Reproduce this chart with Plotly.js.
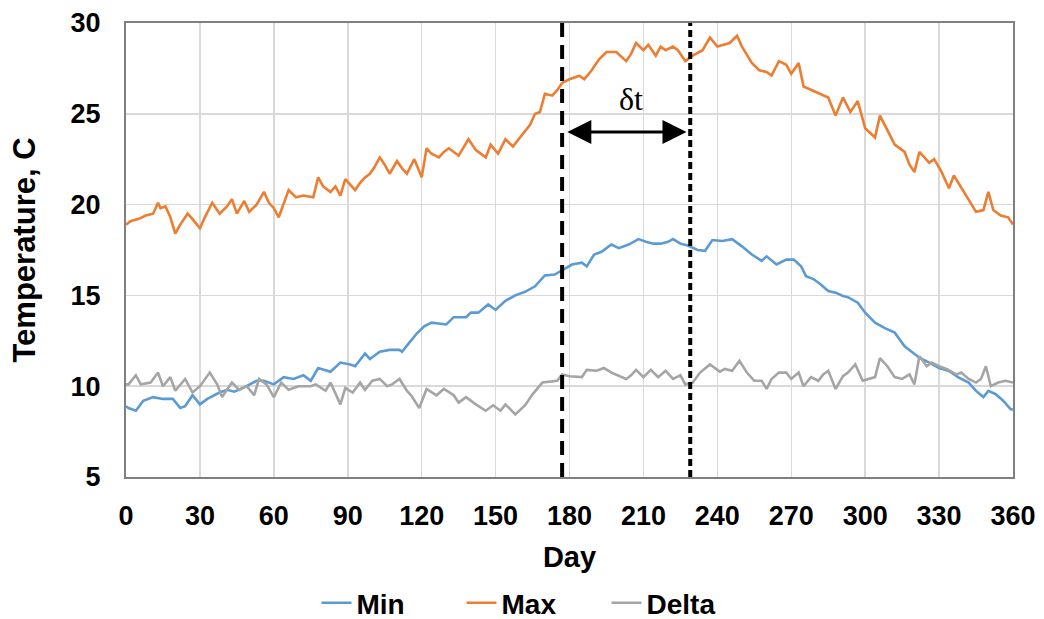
<!DOCTYPE html>
<html>
<head>
<meta charset="utf-8">
<script src="https://cdn.plot.ly/plotly-3.0.1.min.js"></script>
<style>html,body{margin:0;padding:0;background:#fff;}#chart{width:1044px;height:619px;}</style>
</head>
<body>
<div id="chart"></div>
<script>
// ---- data ----
const maxDays = [0,2,5,8,11,13,14,16,18,20,22,25,27,30,32,35,38,41,43,45,48,50,53,56,58,60,62,64,66,69,72,76,78,80,83,85,87,89,93,95,97,99,101,103,105,107,110,112,114,117,120,122,124,127,129,131,135,139,142,146,148,151,154,157,161,164,166,168,170,173,175,177,180,184,186,189,192,195,199,203,205,207,210,212,215,217,219,222,224,227,230,234,237,240,245,248,250,254,257,260,262,265,268,270,273,275,280,283,285,288,291,294,297,300,304,306,309,312,316,318,320,322,326,328,331,334,336,341,345,348,350,352,355,358,360];
const maxVals = [18.9,19.1,19.2,19.4,19.5,20.1,19.8,19.9,19.3,18.4,18.9,19.5,19.2,18.7,19.3,20.1,19.5,19.9,20.3,19.5,20.2,19.6,20.0,20.7,20.1,19.8,19.3,20.0,20.8,20.4,20.5,20.4,21.5,21.0,20.7,21.0,20.5,21.4,20.8,21.2,21.5,21.7,22.1,22.6,22.2,21.7,22.4,22.0,21.7,22.5,21.5,23.1,22.8,22.6,22.9,23.1,22.7,23.6,23.0,22.6,23.3,22.8,23.6,23.2,23.9,24.4,25.0,25.1,26.1,26.0,26.3,26.7,26.9,27.1,26.9,27.4,28.0,28.4,28.4,27.9,28.3,28.9,28.5,28.8,28.2,28.7,28.5,28.7,28.5,27.9,28.2,28.5,29.2,28.7,28.9,29.3,28.7,27.8,27.4,27.3,27.1,27.9,27.7,27.2,27.8,26.5,26.2,26.0,25.9,24.9,25.9,25.1,25.7,24.2,23.7,24.9,24.1,23.3,22.9,22.2,21.8,22.9,22.3,22.5,21.8,20.9,21.6,20.5,19.6,19.7,20.7,19.7,19.4,19.3,18.9];

const minDays = [0,1,4,7,11,15,19,22,24,27,30,33,38,41,44,49,53,56,60,64,68,72,75,78,83,87,91,93,97,99,103,107,111,112,115,118,121,124,130,133,138,140,143,147,150,154,158,162,166,170,174,177,181,185,187,190,193,197,200,204,208,211,214,217,220,222,225,228,232,235,238,242,246,250,254,258,260,264,268,271,274,276,279,282,285,288,291,293,297,300,304,308,312,316,320,322,326,330,334,338,342,345,348,350,353,356,359,360];
const minVals = [8.9,8.8,8.65,9.2,9.4,9.3,9.3,8.8,8.9,9.5,9.0,9.3,9.65,9.8,9.7,10.0,10.3,10.3,10.1,10.5,10.4,10.6,10.3,11.0,10.8,11.3,11.2,11.1,11.8,11.5,11.9,12.0,12.0,11.9,12.4,12.9,13.3,13.5,13.4,13.8,13.8,14.05,14.05,14.5,14.2,14.7,15.0,15.2,15.5,16.1,16.15,16.4,16.7,16.8,16.6,17.25,17.4,17.8,17.6,17.8,18.1,17.95,17.85,17.85,17.95,18.1,17.85,17.75,17.5,17.45,18.05,18.0,18.1,17.7,17.25,16.9,17.15,16.7,16.97,16.97,16.6,16.06,15.9,15.6,15.24,15.15,14.97,14.9,14.6,14.05,13.5,13.2,12.95,12.2,11.76,11.57,11.3,11.0,10.84,10.47,10.2,9.74,9.4,9.74,9.56,9.2,8.74,8.7];

const deltaDays = [0,1,4,6,10,13,15,18,20,24,27,30,34,37,39,43,46,49,52,54,57,60,63,66,70,75,77,81,83,87,89,92,95,97,100,103,106,108,111,114,116,119,122,126,129,133,135,138,142,146,149,152,154,158,162,165,169,175,177,180,185,187,191,194,197,203,205,207,210,213,216,219,222,225,227,230,233,237,241,243,246,249,252,255,258,260,262,265,268,270,273,275,278,281,283,285,288,291,293,296,299,302,304,306,309,312,315,318,320,322,325,327,330,333,337,339,342,345,347,349,351,354,357,360];
const deltaVals = [10.1,10.1,10.6,10.1,10.2,10.75,10.0,10.5,9.75,10.4,9.65,10.0,10.75,10.1,9.4,10.2,9.8,10.0,9.5,10.4,10.1,9.4,10.2,9.8,10.0,10.0,10.1,9.75,10.2,9.0,9.9,9.65,10.2,9.8,10.3,10.4,10.0,10.1,10.4,9.75,9.45,8.8,9.85,9.5,9.85,9.5,9.1,9.4,9.0,8.65,8.95,8.65,9.0,8.45,8.95,9.55,10.2,10.3,10.65,10.55,10.5,10.9,10.85,11.0,10.75,10.4,10.6,10.9,10.5,10.9,10.5,10.85,10.4,10.6,10.1,10.2,10.75,11.2,10.8,10.95,10.85,11.4,10.75,10.3,10.3,9.85,10.4,10.75,10.75,10.4,10.75,10.0,10.5,10.3,10.65,10.85,9.85,10.55,10.75,11.2,10.3,10.4,10.5,11.55,11.1,10.5,10.4,10.65,10.1,11.65,11.1,11.3,11.1,10.95,10.65,10.75,10.4,10.2,10.4,11.1,10.0,10.2,10.3,10.2];

const seriesNames = ['Min','Max','Delta'];
const seriesColors = ['#5B9BD5','#ED7D31','#A5A5A5'];

const xTicks = [0,30,60,90,120,150,180,210,240,270,300,330,360];
const yTicks = [5,10,15,20,25,30];

// annotation elements: window boundaries (days) and label
const windowDays = [177, 229];
const arrowLevel = 24;
const deltaLabel = 'δt';
const deltaLabelPos = [205, 25.8];

// ---- chart ----
const lineW = 2.6;
const traces = [
  {x: minDays, y: minVals, name: seriesNames[0], mode: 'lines', line: {color: seriesColors[0], width: lineW}},
  {x: maxDays, y: maxVals, name: seriesNames[1], mode: 'lines', line: {color: seriesColors[1], width: lineW}},
  {x: deltaDays, y: deltaVals, name: seriesNames[2], mode: 'lines', line: {color: seriesColors[2], width: lineW}}
];

const font = 'Liberation Sans, Arial, sans-serif';
const layout = {
  width: 1044, height: 619,
  margin: {l: 126, r: 31, t: 23, b: 142, autoexpand: false},
  paper_bgcolor: '#ffffff', plot_bgcolor: '#ffffff',
  font: {family: font, color: '#000000', size: 27, weight: 'bold'},
  showlegend: true,
  legend: {orientation: 'h', x: 0.46, xanchor: 'center', y: -0.2775, yanchor: 'middle',
           font: {family: font, size: 28, color: '#000', weight: 'bold'},
           entrywidth: 100, entrywidthmode: 'pixels', tracegroupgap: 0},
  xaxis: {
    range: [0, 360], tickvals: xTicks, ticktext: xTicks.map(String), automargin: false,
    showgrid: true, gridcolor: '#d9d9d9', gridwidth: 1.5,
    showline: true, linecolor: '#808080', linewidth: 2, mirror: true,
    zeroline: false, ticks: '', ticklabelstandoff: 14,
    tickfont: {family: font, size: 27, color: '#000', weight: 'bold'},
    title: {text: 'Day', font: {family: font, size: 29, color: '#000', weight: 'bold'}, standoff: 16}
  },
  yaxis: {
    range: [5, 30], tickvals: yTicks, ticktext: yTicks.map(String), automargin: false,
    showgrid: true, gridcolor: '#d9d9d9', gridwidth: 1.5,
    showline: true, linecolor: '#808080', linewidth: 2, mirror: true,
    zeroline: false, ticks: '', ticklabelstandoff: 18,
    tickfont: {family: font, size: 27, color: '#000', weight: 'bold'},
    title: {text: 'Temperature, C', font: {family: font, size: 31, color: '#000', weight: 'bold'}, standoff: 26}
  },
  shapes: [
    {type: 'line', xref: 'x', yref: 'y', x0: windowDays[0], x1: windowDays[0], y0: 5, y1: 30,
     line: {color: '#000', width: 4, dash: '14px,8px'}},
    {type: 'line', xref: 'x', yref: 'y', x0: windowDays[1], x1: windowDays[1], y0: 5, y1: 30,
     line: {color: '#000', width: 4, dash: '7px,4px'}}
  ],
  annotations: [
    {xref: 'x', yref: 'y', axref: 'x', ayref: 'y',
     x: windowDays[1] - 1.5, y: arrowLevel, ax: windowDays[0] + 1.5, ay: arrowLevel,
     text: '', showarrow: true, arrowhead: 2, startarrowhead: 2, arrowside: 'end+start',
     arrowsize: 1.6, startarrowsize: 1.6, arrowwidth: 3, arrowcolor: '#000', standoff: 0, startstandoff: 0},
    {xref: 'x', yref: 'y', x: deltaLabelPos[0], y: deltaLabelPos[1], text: deltaLabel, showarrow: false,
     font: {family: 'Liberation Serif, Times New Roman, serif', size: 32, color: '#000', weight: 'normal'}}
  ]
};

Plotly.newPlot('chart', traces, layout, {displayModeBar: false, staticPlot: true});
</script>
</body>
</html>
